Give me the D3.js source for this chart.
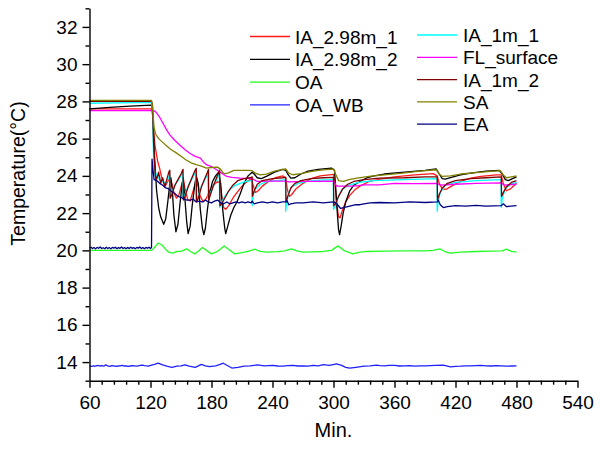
<!DOCTYPE html>
<html><head><meta charset="utf-8">
<script src="https://cdn.jsdelivr.net/npm/d3@7"></script>
<style>
body{margin:0;background:#fff;}
text{font-family:"Liberation Sans",Arial,sans-serif;}
</style></head>
<body>
<svg id="chart" width="600" height="453"></svg>
<script>
// ---- data: [minute, temperature °C] ----
const IA_298m_1 = [[60,27.6],[121,27.6],[122,27.3],[123,26.5],[124.5,25.6],[127,24.8],[129,24.4],[131,23.9],[133,23.6],[135,23.5],[137,23.7],[139.5,23.9],[141,23.6],[143,23.1],[145.5,22.8],[148,23.0],[151,23.6],[152.5,23.8],[154,23.3],[156.5,22.75],[159,22.65],[162,23.2],[165,23.75],[167,23.4],[169,22.9],[172,22.6],[175,22.8],[178,23.2],[182,23.5],[186,23.7],[188.5,23.6],[190,22.9],[192,22.3],[194,22.2],[197,22.4],[201,22.8],[205,23.1],[210,23.45],[215,23.7],[219,23.85],[221,23.5],[223,23.1],[226,23.2],[230,23.45],[236,23.7],[243,23.9],[250,24.0],[253,23.9],[254.5,23.3],[256.5,22.9],[259,23.0],[263,23.3],[270,23.6],[278,23.85],[287,24.0],[300,24.08],[301.5,23.6],[303,22.6],[305,21.8],[306.5,21.75],[309,22.2],[312,22.6],[316,22.95],[321,23.25],[326,23.45],[335,23.7],[346,23.82],[360,23.95],[380,24.05],[398,24.12],[402,24.0],[404,23.6],[407,23.3],[411,23.28],[416,23.45],[425,23.7],[435,23.88],[445,23.97],[460,24.05],[465,24.05],[467,23.6],[470,23.2],[474,23.3],[480,23.6]];
const IA_298m_2 = [[60,27.6],[80,27.68],[100,27.75],[121,27.8],[122,27.5],[124,25.0],[126,23.2],[128,22.3],[130,21.8],[133,21.4],[135,21.7],[137,22.6],[139,23.6],[140,23.9],[141.5,23.2],[143,21.9],[145,21.0],[147,21.4],[149,22.5],[151,23.5],[152,23.9],[153.5,23.0],[155.5,21.6],[157,20.9],[159,21.3],[161,22.4],[163.5,23.5],[165,24.0],[167,23.6],[169,22.2],[171,21.2],[172.5,20.85],[174,21.2],[176,22.2],[178,23.0],[181,23.7],[184,24.0],[187,24.2],[189,23.6],[191,22.2],[193,21.2],[194,20.9],[196,21.3],[199,21.9],[202,22.3],[205,22.6],[208,23.0],[212,23.6],[216,24.0],[220,24.2],[222,24.1],[225,23.9],[229,23.85],[235,24.0],[242,24.2],[250,24.35],[253,24.3],[255,24.1],[258,23.88],[262,23.9],[268,24.1],[275,24.25],[285,24.35],[298,24.42],[301,24.3],[302,23.5],[303.5,22.2],[305,21.1],[306,20.85],[307.5,21.3],[309.5,22.0],[312,22.6],[316,23.2],[320,23.5],[326,23.7],[333,23.9],[340,24.0],[350,24.1],[370,24.2],[390,24.3],[401,24.38],[404,24.1],[407,23.85],[410,23.83],[415,23.9],[425,24.05],[435,24.15],[450,24.25],[463,24.3],[466,24.1],[469,23.8],[472,23.75],[476,23.85],[480,23.95]];
const OA = [[60,20.0],[90,20.0],[121,20.0],[123,20.1],[127.5,20.39],[131,20.3],[135,20.05],[138,19.9],[142,19.85],[146,19.95],[150,19.95],[155.5,20.08],[159,19.95],[163.5,19.81],[167,19.95],[171,20.15],[175,20.0],[180,19.81],[186,19.95],[192.5,20.24],[197,20.05],[203,19.81],[210,19.88],[216,19.95],[222.5,20.06],[228,19.95],[234,19.9],[245,19.93],[252,19.97],[258.5,20.08],[264,19.97],[270,19.9],[280,19.92],[290,19.94],[298,20.0],[304.5,20.24],[310,20.0],[319,19.81],[326,19.9],[333,19.94],[350,19.96],[370,19.97],[390,19.97],[398,20.0],[404.5,20.08],[409,19.95],[414.5,19.85],[425,19.9],[441,19.94],[455,19.96],[466,19.97],[470,20.07],[475,19.95],[480,19.9]];
const OA_WB = [[60,13.8],[62,13.77],[64,13.8],[66,13.78],[68,13.82],[70,13.79],[72,13.81],[74,13.78],[76,13.85],[78,13.8],[80,13.77],[82,13.81],[84,13.8],[86,13.77],[88,13.79],[90,13.8],[92,13.82],[94,13.79],[96,13.8],[98,13.77],[100,13.79],[102,13.81],[104,13.8],[106,13.78],[108,13.8],[110,13.82],[112,13.84],[114,13.81],[116,13.8],[118,13.78],[120,13.82],[124,13.88],[127.5,13.94],[132,13.85],[136,13.78],[141,13.72],[146,13.78],[150,13.8],[154,13.85],[158,13.78],[164,13.72],[168,13.82],[170,13.88],[174,13.8],[178,13.76],[184,13.8],[188,13.86],[191.5,13.94],[196,13.8],[200,13.68],[206,13.72],[212,13.78],[218,13.8],[225,13.85],[232,13.8],[240,13.82],[245,13.79],[250,13.78],[255,13.81],[260,13.82],[265,13.79],[270,13.8],[275,13.78],[280,13.82],[285,13.8],[290,13.86],[296,13.82],[303,13.9],[308,13.82],[312,13.72],[316,13.67],[322,13.72],[330,13.78],[336,13.8],[342,13.84],[346,13.81],[350,13.8],[355,13.82],[360,13.82],[365,13.79],[370,13.8],[375,13.81],[380,13.78],[385,13.8],[390,13.8],[395,13.81],[400,13.82],[408,13.84],[415,13.74],[420,13.77],[425,13.78],[430,13.8],[435,13.8],[440,13.81],[445,13.82],[450,13.8],[455,13.79],[460,13.81],[465,13.8],[470,13.78],[475,13.79],[480,13.8]];
const IA_1m_1 = [[60,27.9],[121,27.95],[122,27.5],[123,25.0],[124.5,24.0],[126,24.1],[129,23.8],[132,23.7],[135,23.6],[138,23.9],[139,24.1],[139.2,22.9],[141,23.1],[144,23.5],[147,23.75],[151.5,24.15],[151.8,22.8],[154,23.0],[157,23.45],[160,23.75],[164.5,24.2],[164.8,22.7],[167,22.9],[170,23.4],[173,23.75],[176.5,24.1],[176.8,22.8],[179,23.1],[182,23.5],[185,23.8],[187.8,24.1],[188,22.3],[190,22.6],[193,22.9],[197,23.2],[202,23.45],[208,23.6],[214,23.7],[219.8,23.75],[220,22.4],[221,23.0],[223,23.3],[228,23.55],[235,23.7],[245,23.75],[252.8,23.8],[253,22.1],[254,22.6],[256,23.1],[259,23.4],[265,23.6],[275,23.72],[290,23.78],[299.8,23.8],[300,22.2],[302,22.4],[305,22.9],[309,23.3],[315,23.5],[325,23.65],[340,23.75],[370,23.8],[401.8,23.85],[402,22.1],[403,22.6],[405,23.1],[410,23.5],[420,23.65],[440,23.75],[464.8,23.8],[465,22.3],[466,22.8],[469,23.3],[474,23.55],[480,23.65]];
const FL_surface = [[60,27.5],[121,27.52],[123,27.5],[125,27.45],[127,27.3],[129,27.15],[132,26.85],[135,26.55],[139,26.2],[144,25.9],[149,25.65],[154,25.4],[159,25.2],[164,25.05],[169,24.95],[172,24.75],[175,24.6],[180,24.5],[185,24.33],[190,24.15],[195,23.97],[200,23.92],[208,23.88],[220,23.85],[225,23.7],[240,23.72],[253,23.72],[256,23.68],[270,23.7],[300,23.72],[303,23.45],[320,23.45],[330,23.52],[345,23.52],[360,23.6],[380,23.58],[402,23.6],[405,23.5],[420,23.55],[440,23.6],[465,23.62],[468,23.5],[480,23.55]];
const IA_1m_2 = [[60,28.0],[121,28.0],[122,27.8],[123,25.8],[124.5,24.1],[126,23.8],[128,24.2],[130,23.6],[132,23.9],[134,23.4],[136,23.8],[138,24.2],[139,24.3],[139.3,22.8],[141,23.0],[144,23.5],[147,23.8],[150,24.1],[152,24.35],[152.3,22.7],[154,22.9],[157,23.4],[160,23.8],[163,24.2],[165,24.4],[165.3,22.6],[167,22.8],[170,23.4],[173,23.8],[176,24.2],[177,24.35],[177.3,22.7],[179,23.0],[182,23.5],[185,23.9],[188,24.3],[188.3,22.4],[190,22.5],[193,22.8],[197,23.2],[201,23.5],[206,23.75],[212,23.85],[218,23.9],[220,23.95],[220.3,22.9],[222,23.2],[225,23.55],[230,23.75],[240,23.85],[250,23.9],[253,23.92],[253.3,22.6],[255,22.9],[258,23.35],[262,23.6],[268,23.75],[278,23.85],[290,23.9],[300,23.92],[300.3,22.4],[302,22.5],[305,22.9],[309,23.3],[314,23.55],[320,23.7],[330,23.8],[345,23.88],[370,23.9],[390,23.95],[402,23.95],[402.3,22.7],[404,23.0],[407,23.35],[412,23.6],[420,23.75],[435,23.85],[450,23.9],[465,23.95],[465.3,22.9],[467,23.1],[470,23.4],[475,23.65],[480,23.75]];
const SA = [[60,28.05],[121,28.05],[122,27.7],[123.5,26.6],[125,26.25],[128,26.0],[132,25.8],[136,25.6],[140,25.42],[145,25.25],[150,25.05],[155,24.85],[160,24.7],[165,24.6],[170,24.52],[175,24.42],[180,24.45],[186,24.47],[189,24.35],[192,24.12],[196,24.15],[202,24.3],[210,24.3],[216,24.3],[220,24.28],[223,24.15],[228,24.05],[234,24.1],[242,24.25],[250,24.35],[253,24.37],[256,24.15],[260,24.06],[268,24.12],[280,24.25],[290,24.32],[300,24.37],[302,24.1],[305,23.75],[310,23.7],[315,23.8],[323,23.88],[335,23.97],[350,24.05],[368,24.15],[385,24.25],[401,24.33],[404,24.1],[407,23.97],[415,24.0],[425,24.1],[440,24.17],[455,24.24],[464,24.28],[467,24.05],[470,23.9],[475,23.95],[480,24.0]];
const EA = [[60,20.12],[61.5,20.17],[63,20.1],[64.5,20.15],[66,20.08],[67.5,20.16],[69,20.11],[70.5,20.18],[72,20.1],[73.5,20.14],[75,20.09],[76.5,20.17],[78,20.1],[79.5,20.15],[81,20.08],[82.5,20.16],[84,20.12],[85.5,20.17],[87,20.09],[88.5,20.15],[90,20.11],[91.5,20.18],[93,20.1],[94.5,20.15],[96,20.09],[97.5,20.16],[99,20.1],[100.5,20.17],[102,20.11],[103.5,20.15],[105,20.09],[106.5,20.16],[108,20.12],[109.5,20.18],[111,20.1],[112.5,20.15],[114,20.09],[115.5,20.16],[117,20.11],[118.5,20.17],[120,20.1],[121,20.15],[121.5,24.9],[122.5,24.3],[123.5,23.8],[126,23.75],[129,23.6],[132,23.5],[135,23.35],[138,23.3],[141,23.15],[144,23.05],[147,22.9],[150,22.85],[153,22.75],[156,22.7],[159,22.7],[162,22.75],[165,22.6],[168,22.65],[171,22.6],[174,22.7],[177,22.6],[180,22.55],[183,22.65],[186,22.7],[189,22.55],[192,22.5],[195,22.6],[198,22.5],[201,22.55],[204,22.6],[207,22.55],[210,22.6],[213,22.55],[216,22.6],[219,22.55],[220,22.65],[222,22.5],[225,22.55],[230,22.6],[235,22.55],[240,22.6],[245,22.55],[250,22.6],[253,22.6],[254,22.7],[256,22.45],[258,22.5],[263,22.55],[270,22.55],[280,22.6],[290,22.55],[300,22.6],[302,22.55],[304,22.45],[307,22.25],[310,22.3],[314,22.35],[318,22.4],[322,22.45],[326,22.45],[330,22.5],[336,22.55],[345,22.57],[360,22.55],[375,22.6],[390,22.57],[402,22.6],[403,22.7],[405,22.45],[408,22.3],[412,22.35],[420,22.4],[430,22.38],[440,22.42],[450,22.38],[465,22.4],[467,22.5],[470,22.35],[480,22.4]];

const seriesNames = ["IA_2.98m_1","IA_2.98m_2","OA","OA_WB","IA_1m_1","FL_surface","IA_1m_2","SA","EA"];
const seriesData = [IA_298m_1, IA_298m_2, OA, OA_WB, IA_1m_1, FL_surface, IA_1m_2, SA, EA];
const seriesColors = ["#ff1a1a","#000000","#22ff22","#2020ff","#00ffff","#ff00ff","#800000","#808000","#000080"];
const xTicks = [60,120,180,240,300,360,420,480,540];
const yTicks = [14,16,18,20,22,24,26,28,30,32];

const svg = d3.select("#chart");
const x = d3.scaleLinear().domain([60,540]).range([89.5,577.5]);
const y = d3.scaleLinear().domain([13,33]).range([380.7,8.3]);

// data lines
const line = d3.line().x(d=>x(d[0])).y(d=>y(d[1]));
seriesData.forEach((s,i)=>{
  svg.append("path").attr("d",line(s)).attr("fill","none")
    .attr("stroke",seriesColors[i]).attr("stroke-width",1.3).attr("stroke-linejoin","round");
});

// axes
const xMinor = d3.range(60,541,12).filter(v=>v%60!==0);
const yMinor = d3.range(13,34,1).filter(v=>v%2!==0);
const gx = svg.append("g").attr("transform",`translate(0,${y(13)})`);
gx.call(d3.axisBottom(x).tickValues(xMinor).tickSize(4).tickFormat("").tickSizeOuter(0));
gx.call(g=>g.selectAll(".domain").remove());
const gx2 = svg.append("g").attr("transform",`translate(0,${y(13)})`);
gx2.call(d3.axisBottom(x).tickValues(xTicks).tickSize(7).tickPadding(8).tickSizeOuter(0));
const gy = svg.append("g").attr("transform",`translate(${x(60)},0)`);
gy.call(d3.axisLeft(y).tickValues(yMinor).tickSize(4).tickFormat("").tickSizeOuter(0));
gy.call(g=>g.selectAll(".domain").remove());
const gy2 = svg.append("g").attr("transform",`translate(${x(60)},0)`);
gy2.call(d3.axisLeft(y).tickValues(yTicks).tickSize(7).tickPadding(5).tickSizeOuter(0));
svg.selectAll(".domain, .tick line").attr("stroke","#000").attr("stroke-width",1.4);
svg.selectAll(".tick text").attr("font-size",19).attr("fill","#000")
  .attr("font-family","'Liberation Sans',Arial,sans-serif");

// axis titles
svg.append("text").attr("x",x(300)).attr("y",437).attr("text-anchor","middle")
  .attr("font-size",20).text("Min.");
svg.append("text").attr("transform","translate(25,173.5) rotate(-90)").attr("text-anchor","middle")
  .attr("font-size",19.5).text("Temperature(°C)");

// legend
const legCols = [{lx:250, tx:295, y0:36.5, dy:22.8}, {lx:417, tx:463, y0:35, dy:22.3}];
seriesNames.forEach((n,i)=>{
  const c = i<4 ? legCols[0] : legCols[1];
  const r = i<4 ? i : i-4;
  const yy = c.y0 + r*c.dy;
  svg.append("line").attr("x1",c.lx).attr("x2",c.lx+40).attr("y1",yy).attr("y2",yy)
    .attr("stroke",seriesColors[i]).attr("stroke-width",1.3);
  svg.append("text").attr("x",c.tx).attr("y",yy+7).attr("font-size",19).attr("fill","#000").text(n);
});
</script>
</body></html>
